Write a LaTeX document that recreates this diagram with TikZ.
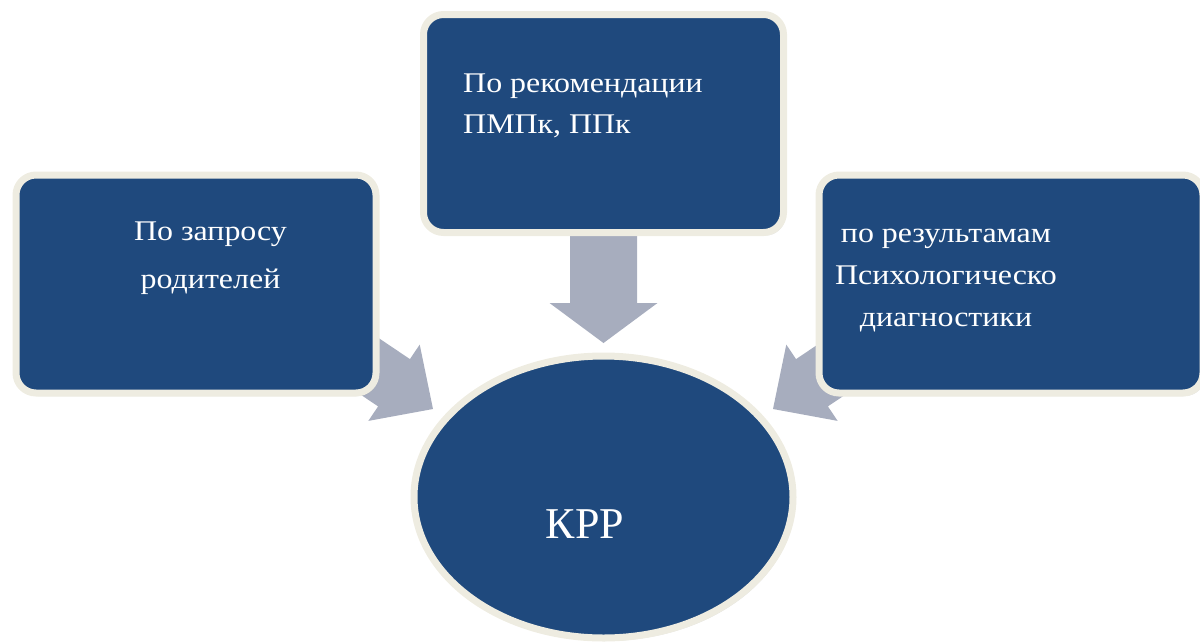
\documentclass[tikz,border=0pt]{standalone}
\usepackage{fontspec}
\setmainfont{Liberation Serif}
\newfontfamily\boxfont[FakeStretch=1.12]{Liberation Serif}
\usetikzlibrary{positioning,calc,shadows,shapes.geometric}
\definecolor{boxblue}{HTML}{1F497D}
\definecolor{rim}{HTML}{EEECE1}
\definecolor{feed}{HTML}{A7ADBE}
\pgfdeclarelayer{back}
\pgfsetlayers{back,main}
\tikzstyle{card}=[rectangle, rounded corners=20pt, fill=boxblue, draw=rim,
  line width=7pt, minimum width=360pt, minimum height=218pt,
  drop shadow={opacity=0.25, shadow xshift=2pt, shadow yshift=-3pt}]
\tikzstyle{txt}=[text=white, inner sep=0pt, font=\boxfont\fontsize{28.5pt}{48pt}\selectfont]
% block arrow: from, to, half shaft, half head, head length
\newcommand{\feedarrow}[5]{
  \fill[feed] let \p0=($(#2)!#5!(#1)$) in
    ($(#1)!#3!90:(#2)$) -- ($(\p0)!#3!-90:(#1)$) -- ($(\p0)!#4!-90:(#1)$)
    -- (#2) -- ($(\p0)!#4!90:(#1)$) -- ($(\p0)!#3!90:(#1)$)
    -- ($(#1)!#3!-90:(#2)$) -- cycle;
}

\begin{document}
\begin{tikzpicture}[x=1pt, y=-1pt]
  \useasboundingbox (0,0) rectangle (1200,641);
  \node[card] (req) at (196,284) {};
  \node[card] (rec) at (603.5,123.5) {};
  \node[card, minimum width=384pt] (diag) at (1011,284) {};
  \node[ellipse, fill=boxblue, draw=rim, line width=7pt, minimum width=379pt,
    minimum height=282pt,
    drop shadow={opacity=0.25, shadow xshift=2pt, shadow yshift=-3pt}] (krp) at (603.5,497) {};

  % base anchor = last line
  \node[txt, align=center, anchor=base] (reqtxt) at (210.5,288) {По запросу\\родителей};
  \node[txt, align=left, anchor=base west, font=\boxfont\fontsize{28.5pt}{41pt}\selectfont]
    (rectxt) at (463,133) {По рекомендации\\ПМПк, ППк};
  \node[txt, align=center, anchor=base, font=\boxfont\fontsize{28.5pt}{42pt}\selectfont]
    (diagtxt) at (946,326) {по результамам\\Психологическо\\диагностики};
  \node[txt, anchor=base, font=\fontsize{44pt}{50pt}\selectfont] (krptxt) at (585,538) {КРР};

  \coordinate (srcT) at (603.5,220);
  \coordinate (tipT) at (603.5,343);
  \coordinate (srcL) at (333.5,342);
  \coordinate (tipL) at (433,409);
  \coordinate (srcR) at (872.5,342);
  \coordinate (tipR) at (773,409);
  \begin{pgfonlayer}{back}
    \feedarrow{srcT}{tipT}{33.5pt}{54pt}{40pt}
    \feedarrow{srcL}{tipL}{28.5pt}{46pt}{47pt}
    \feedarrow{srcR}{tipR}{28.5pt}{46pt}{47pt}
  \end{pgfonlayer}
\end{tikzpicture}
\end{document}
